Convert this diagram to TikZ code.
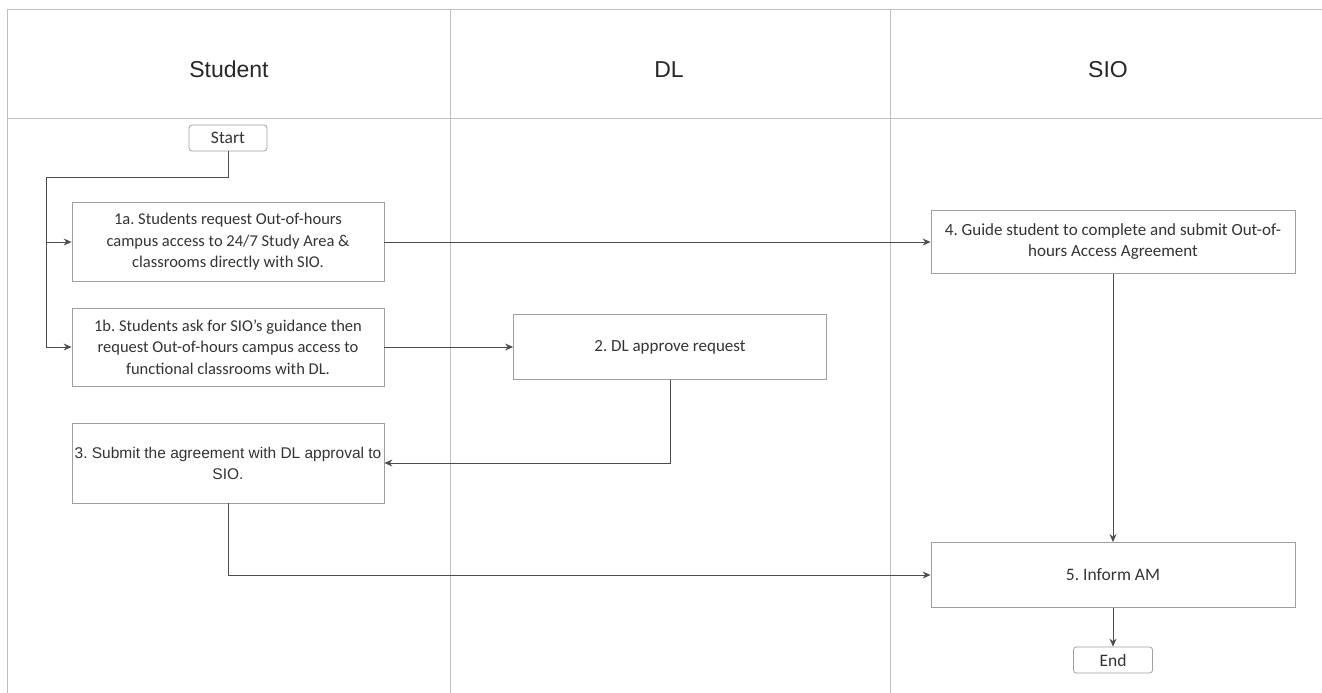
\documentclass[tikz,border=0pt]{standalone}
\usepackage{fontspec}
\setmainfont{Carlito}
\newfontfamily\arialfont{Liberation Sans}
\usetikzlibrary{arrows.meta, positioning}
\frenchspacing

\begin{document}
\begin{tikzpicture}[x = 1pt, y = -1pt,
  lane/.style = {draw = gray!50, line width = 0.6pt},
  hdr/.style = {font = \arialfont\fontsize{23}{27}\selectfont, text = black!85},
  proc/.style = {draw = gray!75, line width = 0.8pt, align = center, inner sep = 2pt,
                 text = black!80, font = \fontsize{16.5}{21.5}\selectfont},
  term/.style = {draw = gray!75, line width = 0.8pt, rounded corners = 3pt,
                 minimum width = 78pt, minimum height = 26pt, inner sep = 0pt,
                 text = black!80, font = \fontsize{17.5}{20}\selectfont},
  flow/.style = {draw = black!70, line width = 1pt, -{Stealth[length = 8pt, width = 7pt]}}]
\useasboundingbox (0,0) rectangle (1322,693);
% swimlanes
\draw[lane] (1322,9) -- (7,9) -- (7,693);
\draw[lane] (7,118) -- (1322,118);
\draw[lane] (450,9) -- (450,693);
\draw[lane] (890,9) -- (890,693);
\node[hdr] (hStudent) at (229,69) {Student};
\node[hdr] (hDL) at (669,70) {DL};
\node[hdr] (hSIO) at (1108,70) {SIO};
% steps
\node[term] (start) at (228,138) {Start};
\node[proc, minimum width = 312pt, minimum height = 79pt] (s1a) at (228,242)
  {1a. Students request Out-of-hours\\ campus access to 24/7 Study Area \&\\ classrooms directly with SIO.};
\node[proc, minimum width = 312pt, minimum height = 78pt] (s1b) at (228,347)
  {1b. Students ask for SIO's guidance then\\ request Out-of-hours campus access to\\ functional classrooms with DL.};
\node[proc, minimum width = 313pt, minimum height = 65pt, font = \fontsize{17}{21}\selectfont] (dl2) at (670,347)
  {2. DL approve request};
\node[proc, minimum width = 312pt, minimum height = 80pt, inner sep = 1pt,
      font = \arialfont\fontsize{15.5}{21}\selectfont] (s3) at (228,463)
  {3. Submit the agreement with DL approval to\\ SIO.};
\node[proc, minimum width = 364pt, minimum height = 63pt, font = \fontsize{17}{21}\selectfont] (sio4) at (1113,242)
  {4. Guide student to complete and submit Out-of-\\ hours Access Agreement};
\node[proc, minimum width = 364pt, minimum height = 65pt, font = \fontsize{17.5}{21}\selectfont] (sio5) at (1113,575)
  {5. Inform AM};
\node[term, minimum width = 79pt] (end) at (1113,660) {End};
% connectors
\coordinate (split) at (46,177);
\draw[flow] (start.south) |- (split) |- (s1a.west);
\draw[flow] (split) |- (s1b.west);
\draw[flow] (s1a.east) -- (sio4.west);
\draw[flow] (s1b.east) -- (dl2.west);
\draw[flow] (dl2.south) |- (s3.east);
\draw[flow] (s3.south) |- (sio5.west);
\draw[flow] (sio4.south) -- (sio5.north);
\draw[flow] (sio5.south) -- (end.north);
\end{tikzpicture}
\end{document}
